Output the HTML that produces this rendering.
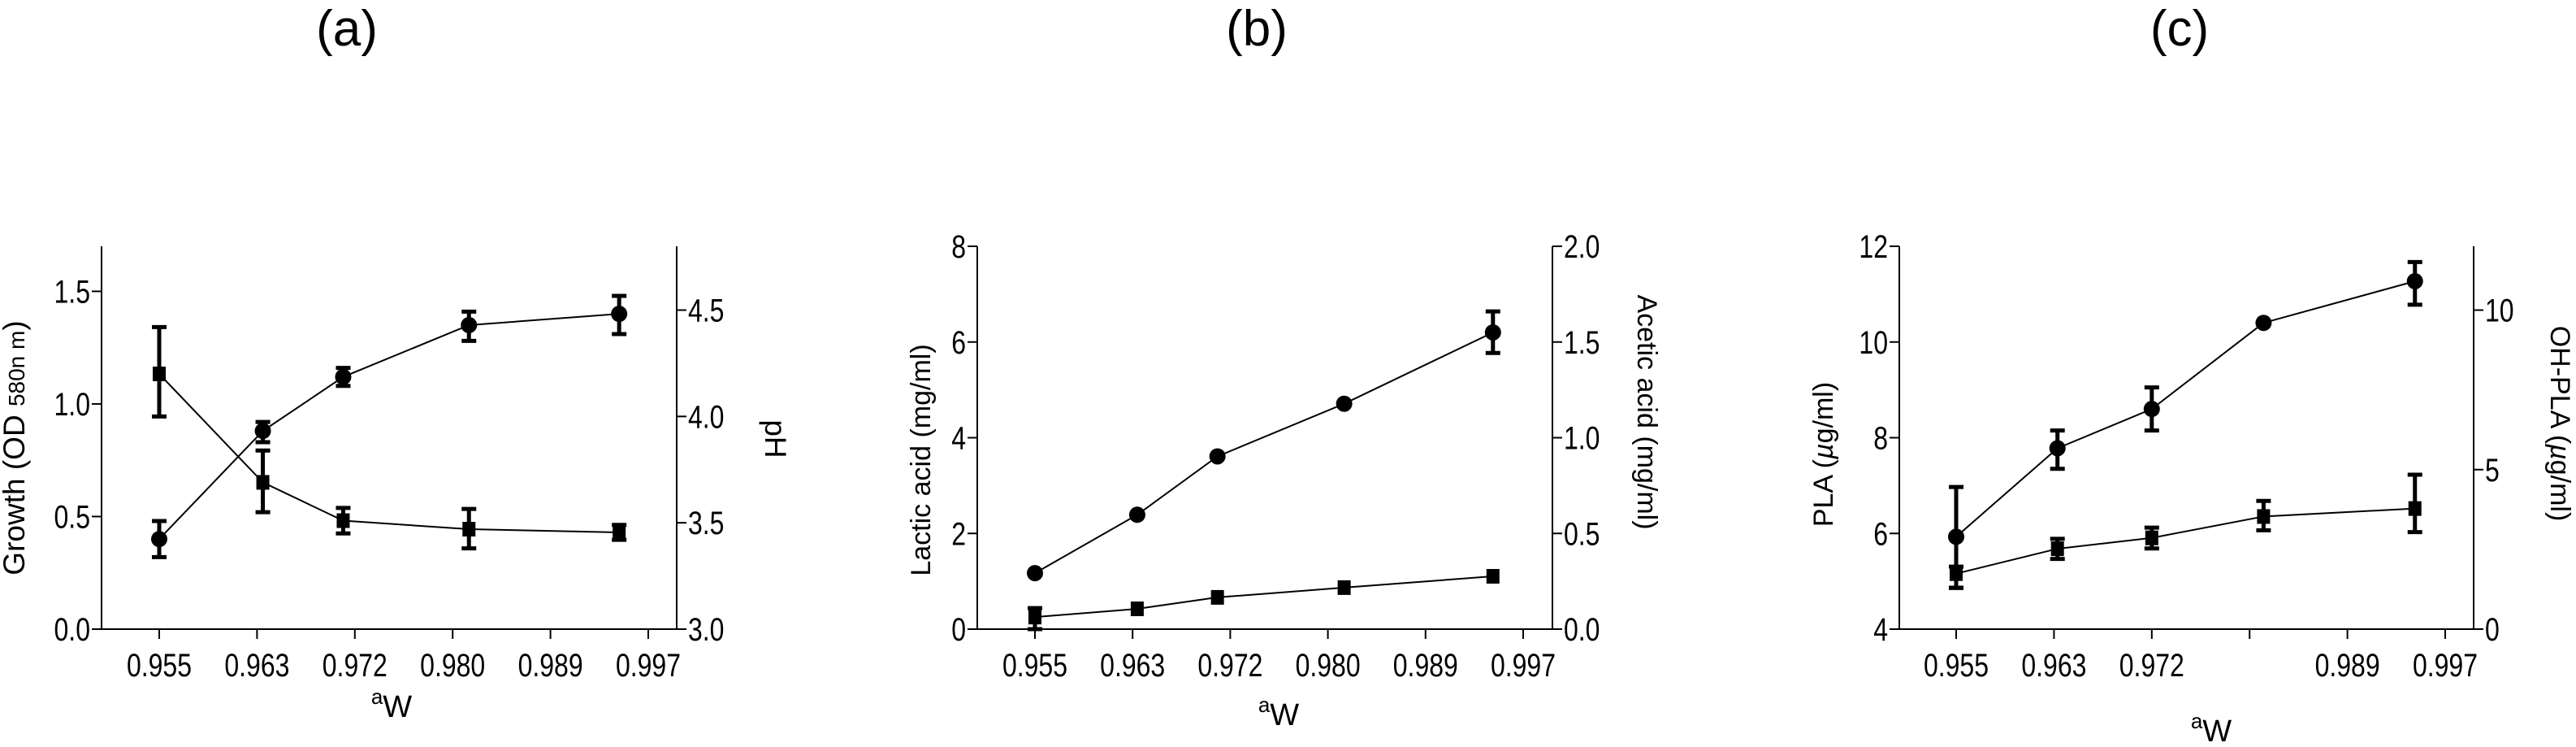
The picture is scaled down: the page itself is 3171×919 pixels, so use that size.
<!DOCTYPE html>
<html><head><meta charset="utf-8"><style>
html,body{margin:0;padding:0;background:#fff;}
svg{display:block;}
text{font-family:"Liberation Sans",sans-serif;fill:#000;}
.t{font-family:"Liberation Sans",sans-serif;}
</style></head><body>
<svg id="chart" width="3171" height="919" viewBox="0 0 3171 919" xmlns="http://www.w3.org/2000/svg"></svg>
<script>
// shared x categories (water activity)
const xTickLabels = ["0.955","0.963","0.972","0.980","0.989","0.997"];
const xTickValues = [0.955,0.9634,0.9718,0.9802,0.9886,0.997];
const awA = [0.955,0.9639,0.9708,0.9816,0.9945];
const awB = [0.955,0.9638,0.9707,0.9816,0.9944];
const awC = [0.955,0.9637,0.9718,0.9814,0.9944];
// panel a
const aGrowth = [0.40,0.88,1.12,1.35,1.40];
const aGrowthLo = [0.32,0.83,1.08,1.28,1.31];
const aGrowthHi = [0.48,0.92,1.16,1.41,1.48];
const aPH = [4.20,3.69,3.51,3.47,3.455];
const aPHLo = [4.00,3.55,3.45,3.38,3.42];
const aPHHi = [4.42,3.84,3.57,3.565,3.49];
const aLeftTicks = [0,0.5,1.0,1.5];
const aRightTicks = [3.0,3.5,4.0,4.5];
// panel b
const bLactic = [1.17,2.39,3.61,4.71,6.20];
const bLacticLo = [1.17,2.39,3.61,4.71,5.77];
const bLacticHi = [1.17,2.39,3.61,4.71,6.64];
const bAcetic = [0.063,0.106,0.166,0.217,0.276];
const bAceticLo = [0.0,0.106,0.166,0.217,0.276];
const bAceticHi = [0.11,0.106,0.166,0.217,0.276];
const bLeftTicks = [0,2,4,6,8];
const bRightTicks = [0.0,0.5,1.0,1.5,2.0];
// panel c
const cPLA = [5.93,7.78,8.60,10.40,11.27];
const cPLALo = [4.86,7.35,8.15,10.40,10.78];
const cPLAHi = [6.97,8.15,9.05,10.40,11.67];
const cOH = [1.74,2.52,2.86,3.53,3.78];
const cOHLo = [1.30,2.20,2.53,3.10,3.04];
const cOHHi = [1.96,2.83,3.18,4.02,4.84];
const cLeftTicks = [4,6,8,10,12];
const cRightTicks = [0,5,10];
const cXTickLabels = ["0.955","0.963","0.972","","0.989","0.997"];

const NS="http://www.w3.org/2000/svg";
const svg=document.getElementById('chart');
function mk(tag,attrs,parent){const e=document.createElementNS(NS,tag);for(const k in attrs)e.setAttribute(k,attrs[k]);(parent||svg).appendChild(e);return e;}
function numLen(s,fs){let w=0;for(const ch of s)w+=(ch==='.'?0.278:0.556)*fs;return w*0.8;}
function numText(g,x,y,s,anchor){
  const t=mk('text',{x:x,y:y,'font-size':40,'text-anchor':anchor,textLength:numLen(s,40),lengthAdjust:'spacingAndGlyphs'},g);
  t.textContent=s;return t;}

function panel(p){
  const g=mk('g',{});
  
  
  const top=303,bot=774;
  const xs=v=>p.x0+(v-0.955)*(p.x1-p.x0)/(0.997-0.955);
  const yl=v=>bot-(v-p.lmin)*(bot-top)/(p.lmax-p.lmin);
  const yr=v=>bot-(v-p.rmin)*(bot-top)/(p.rmax-p.rmin);
  const la=mk('line',{x1:p.L,y1:top,x2:p.L,y2:bot,stroke:'#000','stroke-width':2},g);
  
  const ra=mk('line',{x1:p.R,y1:top,x2:p.R,y2:bot,stroke:'#000','stroke-width':2},g);
  
  const xa=mk('line',{x1:p.L,y1:bot,x2:p.R,y2:bot,stroke:'#000','stroke-width':2},g);
  
  p.lt.forEach(v=>{const y=yl(v);
    mk('line',{x1:p.L-12,y1:y,x2:p.L,y2:y,stroke:'#000','stroke-width':2},g);
    const t=numText(g,p.L-14,y+14,p.lf(v),'end');
    });
  p.rt.forEach(v=>{const y=yr(v);
    mk('line',{x1:p.R,y1:y,x2:p.R+12,y2:y,stroke:'#000','stroke-width':2},g);
    const t=numText(g,p.R+14,y+14,p.rf(v),'start');
    });
  xTickValues.forEach((v,i)=>{const x=xs(v);
    mk('line',{x1:x,y1:bot,x2:x,y2:bot+12,stroke:'#000','stroke-width':2},g);
    const lab=p.xl[i]; if(!lab) return;
    const t=numText(g,x,bot+58,lab,'middle');
    });
  function series(xv,vals,lo,hi,sc,shape,nm){
    const pts=vals.map((v,i)=>xs(xv[i])+','+sc(v)).join(' ');
    const pl=mk('polyline',{points:pts,fill:'none',stroke:'#000','stroke-width':2},g);
    
    vals.forEach((v,i)=>{const x=xs(xv[i]);
      if(hi[i]!==lo[i]){const y1=sc(hi[i]),y2=sc(lo[i]);
        const eb=mk('path',{d:`M${x},${y1}V${y2}M${x-9},${y1}H${x+9}M${x-9},${y2}H${x+9}`,stroke:'#000','stroke-width':5,fill:'none'},g);
        }
      let m;
      if(shape==='c') m=mk('circle',{cx:x,cy:sc(v),r:10,fill:'#000'},g);
      else m=mk('rect',{x:x-8,y:sc(v)-9,width:16,height:18,fill:'#000'},g);
      
    });
  }
  series(p.aw,p.s1,p.s1lo,p.s1hi,p.s1r?yr:yl,p.s1m,p.s1n);
  series(p.aw,p.s2,p.s2lo,p.s2hi,p.s2r?yr:yl,p.s2m,p.s2n);
  const ly=mk('text',{class:'t',x:0,y:0,'font-size':p.tfs,'text-anchor':'middle',transform:`translate(${p.lyx},${p.lyy}) rotate(-90)`},g);
  ly.innerHTML=p.lyt;
  const ry=mk('text',{class:'t',x:0,y:0,'font-size':p.tfs,'text-anchor':'middle',transform:`translate(${p.ryx},${p.ryy}) rotate(90)`},g);
  ry.innerHTML=p.ryt;
  const xl=mk('text',{x:p.xlx,y:p.xly,'font-size':38,'text-anchor':'middle'},g);
  xl.innerHTML='<tspan font-size="26" dy="-16">a</tspan><tspan dy="16">W</tspan>';
  
  const tt=mk('text',{x:p.tx,y:56,'font-size':62,'text-anchor':'middle'},g);tt.textContent=p.title;
  
}
const f1=v=>v.toFixed(1), f0=v=>String(v);
panel({name:'panel-a',tfs:37,L:125,R:833,x0:196,x1:798,lmin:0,lmax:1.7,rmin:3.0,rmax:4.8,lt:aLeftTicks,rt:aRightTicks,lf:f1,rf:f1,xl:xTickLabels,aw:awA,
 s1:aGrowth,s1lo:aGrowthLo,s1hi:aGrowthHi,s1r:false,s1m:'c',s1n:'growth',
 s2:aPH,s2lo:aPHLo,s2hi:aPHHi,s2r:true,s2m:'s',s2n:'ph',
 lyx:30,lyy:551,lyt:'Growth (OD <tspan font-size="28">580n m</tspan>)',ryx:942,ryy:540,ryt:'pH',xlx:482,xly:882,tx:427,title:'(a)'});
panel({name:'panel-b',tfs:34,L:1203,R:1911,x0:1274,x1:1875,lmin:0,lmax:8,rmin:0,rmax:2,lt:bLeftTicks,rt:bRightTicks,lf:f0,rf:f1,xl:xTickLabels,aw:awB,
 s1:bLactic,s1lo:bLacticLo,s1hi:bLacticHi,s1r:false,s1m:'c',s1n:'lactic-acid',
 s2:bAcetic,s2lo:bAceticLo,s2hi:bAceticHi,s2r:true,s2m:'s',s2n:'acetic-acid',
 lyx:1145,lyy:566,lyt:'Lactic acid (mg/ml)',ryx:2016,ryy:507,ryt:'Acetic acid (mg/ml)',xlx:1574,xly:892,tx:1547,title:'(b)'});
panel({name:'panel-c',tfs:34,L:2338,R:3045,x0:2408,x1:3010,lmin:4,lmax:12,rmin:0,rmax:12,lt:cLeftTicks,rt:cRightTicks,lf:f0,rf:f0,xl:cXTickLabels,aw:awC,
 s1:cPLA,s1lo:cPLALo,s1hi:cPLAHi,s1r:false,s1m:'c',s1n:'pla',
 s2:cOH,s2lo:cOHLo,s2hi:cOHHi,s2r:true,s2m:'s',s2n:'oh-pla',
 lyx:2256,lyy:559,lyt:'PLA (<tspan font-style="italic">µ</tspan>g/ml)',ryx:3140,ryy:521,ryt:'OH-PLA (<tspan font-style="italic">µ</tspan>g/ml)',xlx:2722,xly:912,tx:2683,title:'(c)'});
</script>
</body></html>
